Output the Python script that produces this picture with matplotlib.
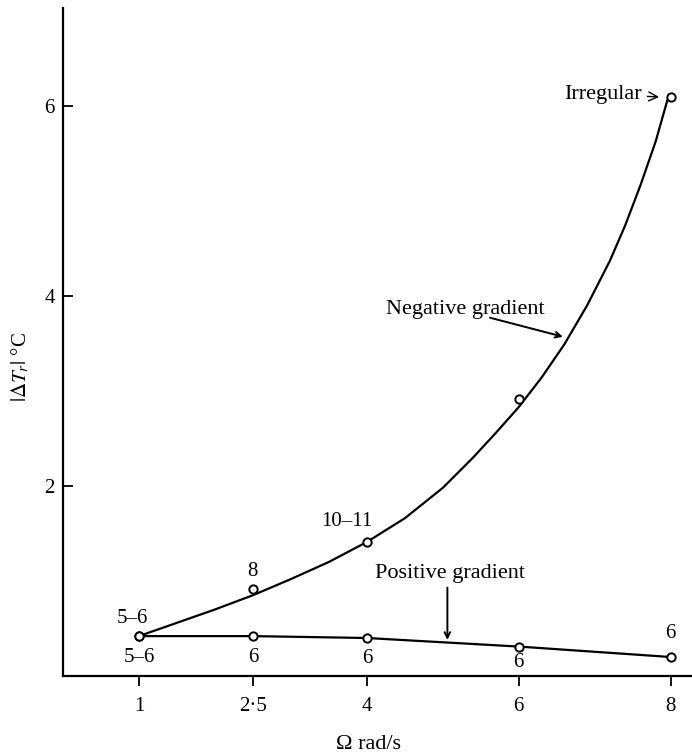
import numpy as np
import matplotlib.pyplot as plt

plt.rcParams['font.family'] = ['Liberation Serif', 'DejaVu Serif']
plt.rcParams['mathtext.fontset'] = 'stix'

# measured points
omega = [1, 2.5, 4, 6, 8]
neg_points = [0.42, 0.92, 1.41, 2.91, 6.09]
pos_points = [0.42, 0.42, 0.40, 0.31, 0.20]

# hand-drawn fit through the negative-gradient points
neg_curve_x = [1.0, 1.5, 2.0, 2.5, 3.0, 3.5, 4.0, 4.5, 5.0, 5.4, 5.7, 6.0, 6.3, 6.6,
               6.9, 7.2, 7.4, 7.6, 7.8, 7.96]
neg_curve_y = [0.42, 0.56, 0.70, 0.85, 1.02, 1.20, 1.41, 1.66, 1.98, 2.30, 2.56, 2.83,
               3.14, 3.49, 3.90, 4.37, 4.74, 5.16, 5.62, 6.07]

# labels next to the points
top_labels = ['5\u20136', '8', '10\u201311']
bottom_labels = ['5\u20136', '6', '6', '6']
x_ticks = [1, 2.5, 4, 6, 8]
x_ticklabels = ['1', '2\u00b75', '4', '6', '8']
y_ticks = [2, 4, 6]

fig = plt.figure(figsize=(6.92, 7.55), dpi=100)
ax = fig.add_axes([0.091, 0.1046, 0.909, 0.885])

ax.plot(neg_curve_x, neg_curve_y, color='black', lw=1.6, solid_joinstyle='round')
ax.plot(omega, pos_points, color='black', lw=1.6)
ax.plot(omega, neg_points, 'o', mfc='white', mec='black', ms=6, mew=1.4, zorder=5)
ax.plot(omega, pos_points, 'o', mfc='white', mec='black', ms=6, mew=1.4, zorder=5)

fs = 15   # numbers and ticks
fst = 16  # annotation words
# numbers above the upper curve
ax.text(0.91, 0.6, top_labels[0], ha='center', va='center', fontsize=fs)
ax.text(2.49, 1.1, top_labels[1], ha='center', va='center', fontsize=fs)
ax.text(3.74, 1.63, top_labels[2], ha='center', va='center', fontsize=fs)
# numbers below the lower curve
ax.text(1.0, 0.19, bottom_labels[0], ha='center', va='center', fontsize=fs)
ax.text(2.5, 0.19, bottom_labels[1], ha='center', va='center', fontsize=fs)
ax.text(4.0, 0.18, bottom_labels[2], ha='center', va='center', fontsize=fs)
ax.text(6.0, 0.14, bottom_labels[3], ha='center', va='center', fontsize=fs)
ax.text(8.0, 0.45, '6', ha='center', va='center', fontsize=fs)

ax.annotate('Irregular', xy=(7.92, 6.09), xytext=(7.62, 6.12), ha='right', va='center',
            fontsize=fst, arrowprops=dict(arrowstyle='->', color='black', lw=1.0,
                                          shrinkA=2, shrinkB=4))
ax.annotate('', xy=(6.58, 3.57), xytext=(5.62, 3.77),
            arrowprops=dict(arrowstyle='->', color='black', lw=1.4, shrinkA=0, shrinkB=0))
ax.text(5.3, 3.86, 'Negative gradient', ha='center', va='center', fontsize=fst)
ax.annotate('', xy=(5.06, 0.38), xytext=(5.06, 0.93),
            arrowprops=dict(arrowstyle='->', color='black', lw=1.4, shrinkA=0, shrinkB=0))
ax.text(5.09, 1.08, 'Positive gradient', ha='center', va='center', fontsize=fst)

ax.set_xlim(0, 8.28)
ax.set_ylim(0, 7.03)
ax.set_xticks(x_ticks)
ax.set_xticklabels(x_ticklabels)
ax.set_yticks(y_ticks)
ax.tick_params(axis='x', direction='out', length=7, width=1.3, labelsize=fs, pad=8)
ax.tick_params(axis='y', direction='in', length=7, width=1.3, labelsize=fs, pad=6)

for side in ['top', 'right']:
    ax.spines[side].set_visible(False)
for side in ['left', 'bottom']:
    ax.spines[side].set_linewidth(1.6)

ax.set_xlabel('\u03a9 rad/s', fontsize=16)
ax.xaxis.set_label_coords(0.485, -0.088)
ax.set_ylabel(r'$|\Delta T_r|$ °C', fontsize=15)
ax.yaxis.set_label_coords(-0.05, 0.463)

fig.savefig('out.png', dpi=100)
